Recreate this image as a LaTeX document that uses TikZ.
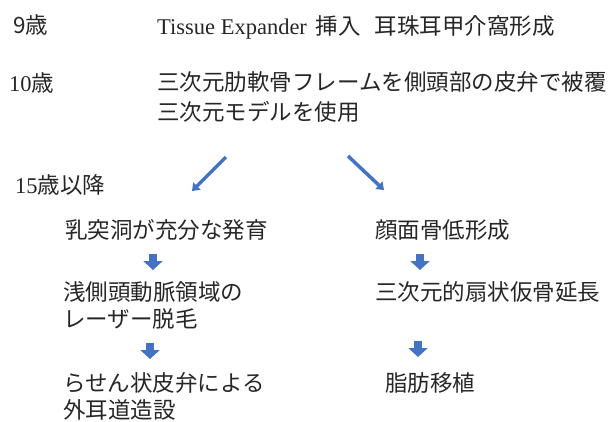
\documentclass[tikz,border=0pt]{standalone}
\usepackage{fontspec}
\setmainfont{Liberation Serif}
\newfontfamily\jp{Noto Sans CJK JP}
\usetikzlibrary{arrows.meta}
\definecolor{arrowblue}{HTML}{4472C4}
\tikzset{
  txt/.style={anchor=west, inner sep=0pt, font=\fontsize{22.5}{28}\selectfont, align=left, text=black!85},
  thinarrow/.style={draw=arrowblue, line width=3.5pt, -{Triangle[width=10pt,length=7pt]}},
  blockarrow/.style={draw=arrowblue, line width=8pt, -{Triangle[width=19pt,length=9pt]}}
}
\begin{document}
\begin{tikzpicture}[x=1pt,y=-1pt]
\useasboundingbox (0,0) rectangle (609,421);
\node[txt] (age9) at (13,25) {\jp 9歳};
\node[txt] (te) at (157,27) {Tissue Expander\hspace{9pt}{\jp 挿入\hspace{14pt}耳珠耳甲介窩形成}};
\node[txt] (age10) at (9,83) {10{\jp 歳}};
\node[txt, font=\fontsize{22.5}{30}\selectfont] (frame) at (157,97) {\jp 三次元肋軟骨フレームを側頭部の皮弁で被覆\\\jp 三次元モデルを使用};
\node[txt] (age15) at (15,185) {15{\jp 歳以降}};
\node[txt] (l1) at (65,230) {\jp 乳突洞が充分な発育};
\node[txt] (r1) at (375,230) {\jp 顔面骨低形成};
\node[txt, font=\fontsize{22.5}{27}\selectfont] (l2) at (63,305) {\jp 浅側頭動脈領域の\\\jp レーザー脱毛};
\node[txt] (r2) at (375,292) {\jp 三次元的扇状仮骨延長};
\node[txt, font=\fontsize{22.5}{27}\selectfont] (l3) at (63,396) {\jp らせん状皮弁による\\\jp 外耳道造設};
\node[txt] (r3) at (385,383) {\jp 脂肪移植};
\coordinate (a1s) at (226,157);
\coordinate (a1e) at (192,191);
\coordinate (a2s) at (348,156);
\coordinate (a2e) at (384,190);
\draw[thinarrow] (a1s) -- (a1e);
\draw[thinarrow] (a2s) -- (a2e);
\coordinate (b1s) at (153,254);
\coordinate (b1e) at (153,270);
\coordinate (b2s) at (420,254);
\coordinate (b2e) at (420,270);
\coordinate (b3s) at (150,343);
\coordinate (b3e) at (150,359);
\coordinate (b4s) at (418,341);
\coordinate (b4e) at (418,357);
\draw[blockarrow] (b1s) -- (b1e);
\draw[blockarrow] (b2s) -- (b2e);
\draw[blockarrow] (b3s) -- (b3e);
\draw[blockarrow] (b4s) -- (b4e);
\end{tikzpicture}
\end{document}
